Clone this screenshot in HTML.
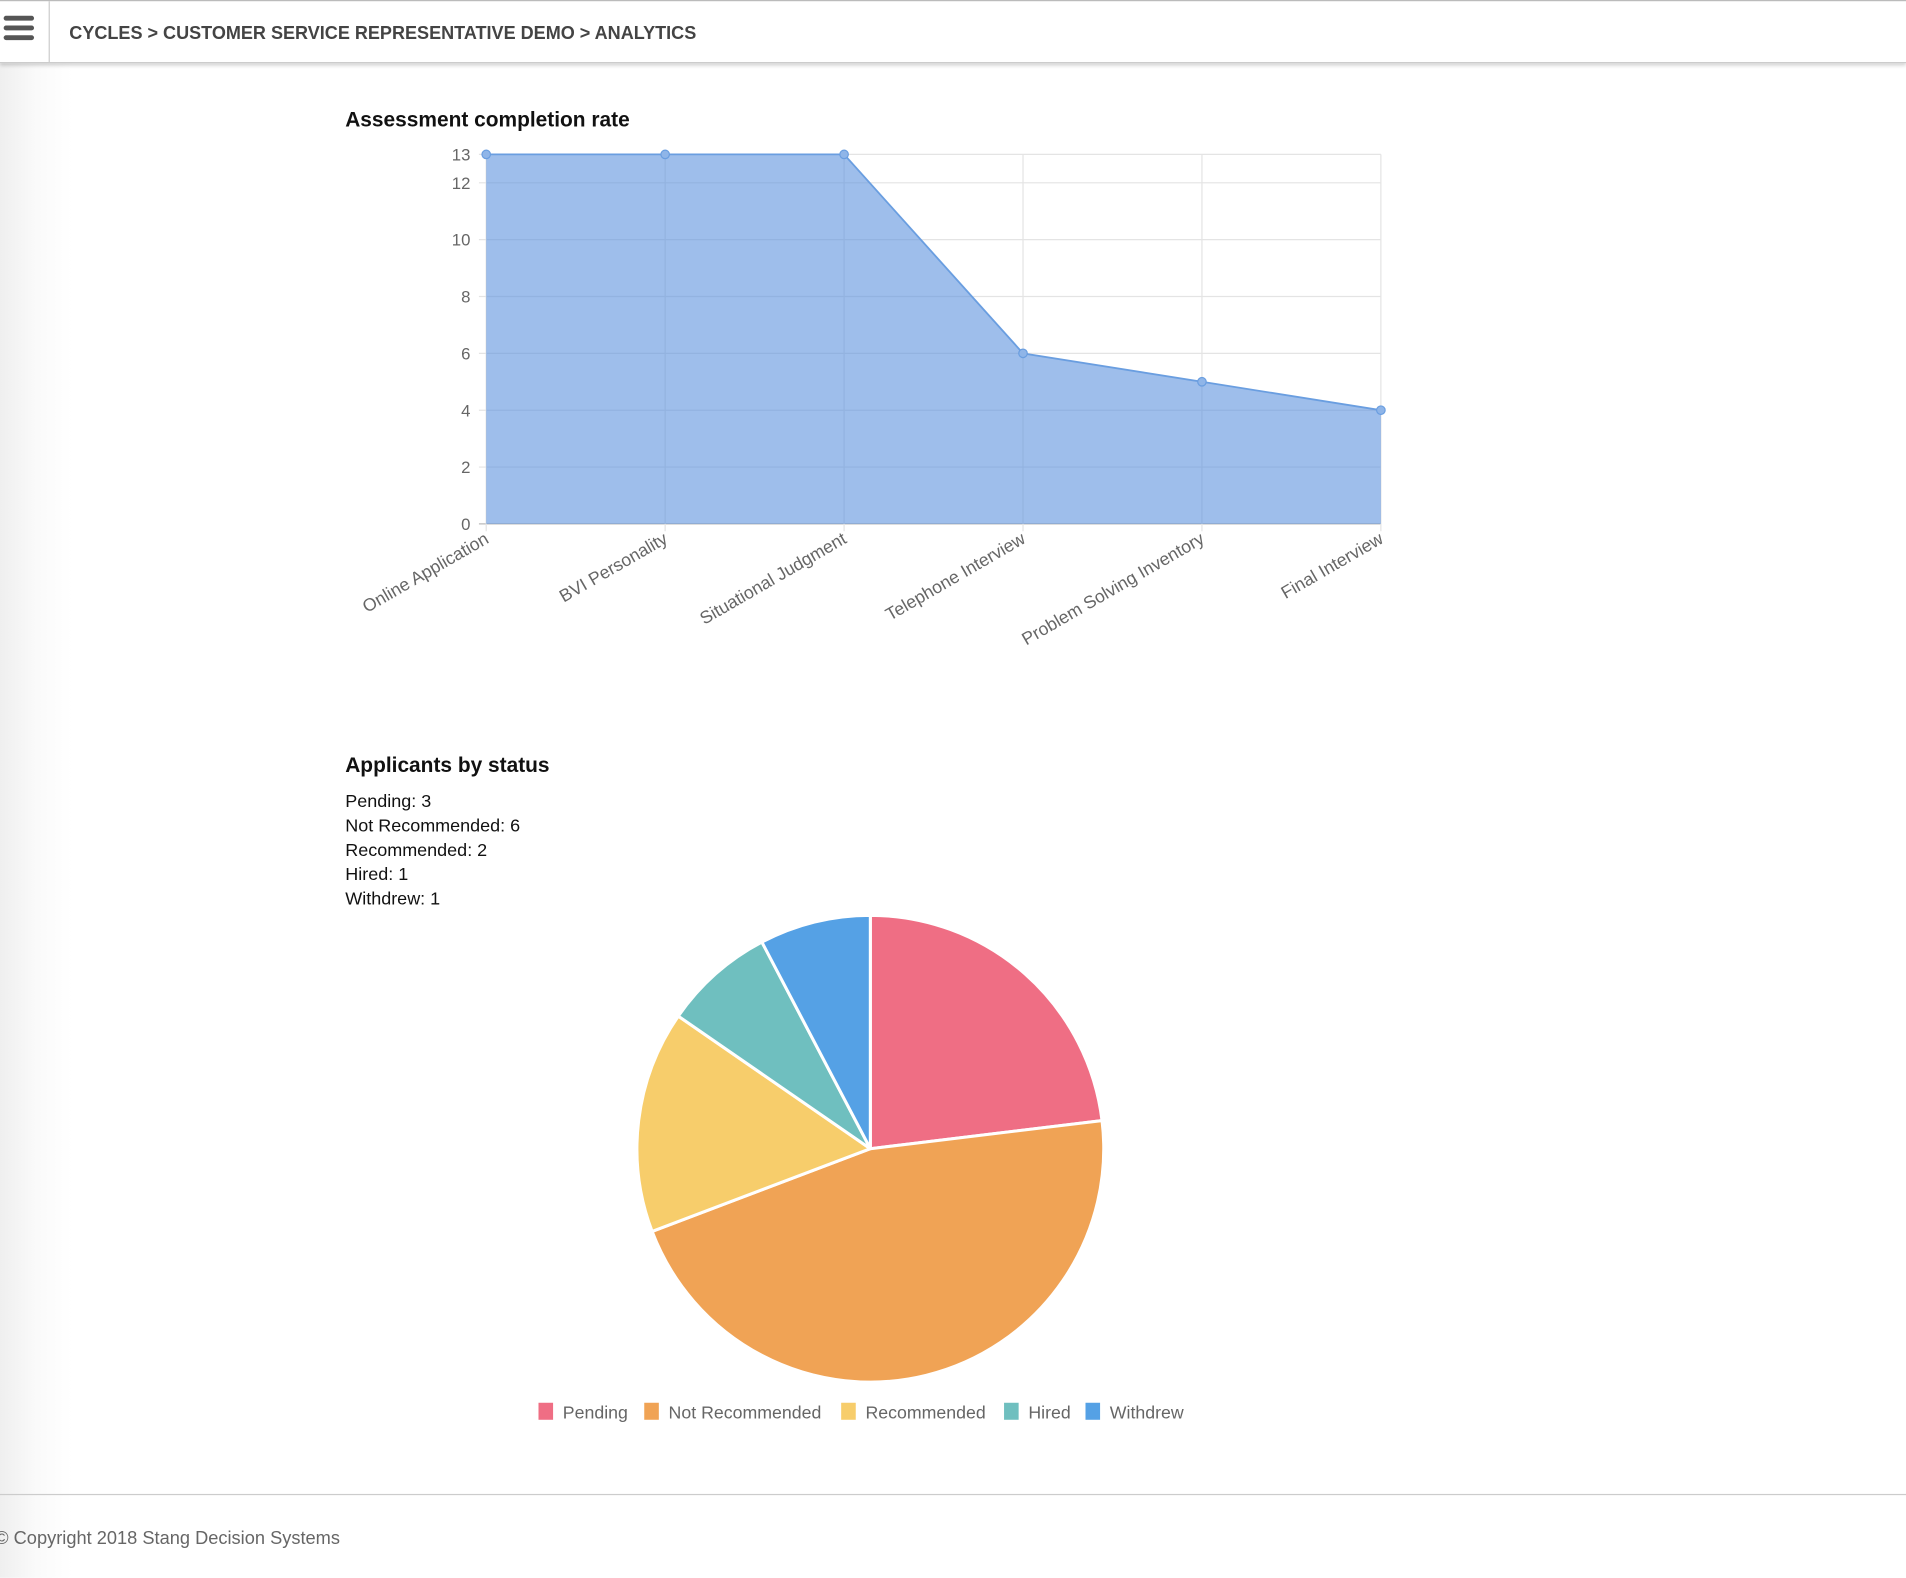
<!DOCTYPE html>
<html><head><meta charset="utf-8">
<style>
html,body{margin:0;padding:0;width:1906px;height:1578px;overflow:hidden;background:#fff;font-family:"Liberation Sans",sans-serif;}
#stage{position:absolute;left:0;top:0;width:1568px;height:1298px;transform:scale(1.21556);transform-origin:0 0;background:linear-gradient(to right,#efefef 0px,#fafafa 30px,#fff 60px);}
#header{position:absolute;left:0;top:0;width:1568px;height:50px;background:#fff;border-top:1px solid #bbb;border-bottom:1px solid #ccc;box-shadow:0 2px 3px rgba(0,0,0,0.18);}
#menu{position:absolute;left:0;top:0;width:40px;height:50px;border-right:1px solid #ccc;}
#menu div{position:absolute;left:3px;width:25px;height:4px;background:#555;border-radius:2px;}
#crumb{position:absolute;left:57px;top:19px;font-size:14.85px;font-weight:bold;color:#444;white-space:nowrap;}
.t{position:absolute;left:284px;font-size:17.2px;font-weight:bold;color:#111;white-space:nowrap;}
.s{position:absolute;left:284px;font-size:14.8px;color:#111;white-space:nowrap;}
#footline{position:absolute;left:0;top:1229px;width:1568px;height:1px;background:#ccc;}
#copy{position:absolute;left:-4px;top:1257px;font-size:15px;color:#666;white-space:nowrap;}
svg{position:absolute;left:0;top:0;}
</style></head><body>
<div id="stage">
<div id="header">
 <div id="menu"><div style="top:12px"></div><div style="top:20px"></div><div style="top:28px"></div></div>
 <div id="crumb">CYCLES &gt; CUSTOMER SERVICE REPRESENTATIVE DEMO &gt; ANALYTICS</div>
</div>
<div class="t" style="top:88px">Assessment completion rate</div>
<svg id="line" width="1568" height="560"></svg>
<div class="t" style="top:619px">Applicants by status</div>
<div class="s" style="top:652px">Pending: 3</div>
<div class="s" style="top:672px">Not Recommended: 6</div>
<div class="s" style="top:692px">Recommended: 2</div>
<div class="s" style="top:712px">Hired: 1</div>
<div class="s" style="top:732px">Withdrew: 1</div>
<svg id="pie" width="1568" height="1200"></svg>
<div id="footline"></div>
<div id="copy">© Copyright 2018 Stang Decision Systems</div>
</div>
<script>
const categories=["Online Application","BVI Personality","Situational Judgment","Telephone Interview","Problem Solving Inventory","Final Interview"];
const completions=[13,13,13,6,5,4];
const yTicks=[0,2,4,6,8,10,12,13];
const statusLabels=["Pending","Not Recommended","Recommended","Hired","Withdrew"];
const statusCounts=[3,6,2,1,1];
const statusColors=["#ef6e84","#f0a355","#f7cd6b","#6fbfbf","#55a1e5"];
const NS="http://www.w3.org/2000/svg";
function mk(p,tag,at){const e=document.createElementNS(NS,tag);for(const k in at)e.setAttribute(k,at[k]);p.appendChild(e);return e;}
const L=document.getElementById('line');
const x0=400,x1=1136,yTop=127,yBot=431,yMax=13;
const xs=i=>x0+(x1-x0)*i/(categories.length-1);
const ys=v=>yBot-(yBot-yTop)*v/yMax;
yTicks.forEach(v=>{
 const g=mk(L,'line',{x1:x0-6,x2:x1,y1:ys(v),y2:ys(v),stroke:v===0?'#bbb':'#e4e4e4','stroke-width':1});
 
 
 const t=mk(L,'text',{x:x0-13,y:ys(v)+5,'text-anchor':'end','font-size':13.8,fill:'#666','font-family':'Liberation Sans'});
 t.textContent=v;
 
 
});
categories.forEach((c,i)=>{
 const g=mk(L,'line',{x1:xs(i),x2:xs(i),y1:yTop,y2:yBot+6,stroke:'#e4e4e4','stroke-width':1});
 
 
});
let d=`M${xs(0)},${yBot}`;completions.forEach((v,i)=>d+=` L${xs(i)},${ys(v)}`);d+=` L${xs(completions.length-1)},${yBot}Z`;
const area=mk(L,'path',{d:d,fill:'rgba(88,143,220,0.58)'});


const ln=mk(L,'polyline',{points:completions.map((v,i)=>xs(i)+','+ys(v)).join(' '),fill:'none',stroke:'#6a9ee0','stroke-width':1.5});


completions.forEach((v,i)=>{
 const p=mk(L,'circle',{cx:xs(i),cy:ys(v),r:3.5,fill:'#8fb5e8',stroke:'#6a9ee0','stroke-width':1});
 
 
});
categories.forEach((c,i)=>{
 const t=mk(L,'text',{transform:`translate(${xs(i)+3},${yBot+15}) rotate(-30)`,'text-anchor':'end','font-size':14.6,fill:'#666','font-family':'Liberation Sans'});
 t.textContent=c;
 
 
});
const P=document.getElementById('pie');
const cx=716,cy=945,R=192;
const tot=statusCounts.reduce((a,b)=>a+b,0);
let a=-Math.PI/2;
statusCounts.forEach((v,i)=>{
 const b=a+2*Math.PI*v/tot;
 const large=(b-a)>Math.PI?1:0;
 const p=mk(P,'path',{d:`M${cx},${cy} L${cx+R*Math.cos(a)},${cy+R*Math.sin(a)} A${R},${R} 0 ${large} 1 ${cx+R*Math.cos(b)},${cy+R*Math.sin(b)} Z`,fill:statusColors[i],stroke:'#fff','stroke-width':2.5});
 
 
 a=b;
});
const lx=[443,530,692,826,893];
statusLabels.forEach((s,i)=>{
 const g=mk(P,'g',{});
 
 
 mk(g,'rect',{x:lx[i],y:1154,width:12,height:14,fill:statusColors[i]});
 const t=mk(g,'text',{x:lx[i]+20,y:1167,'font-size':14.6,fill:'#666','font-family':'Liberation Sans'});
 t.textContent=s;
});
</script>
</body></html>
